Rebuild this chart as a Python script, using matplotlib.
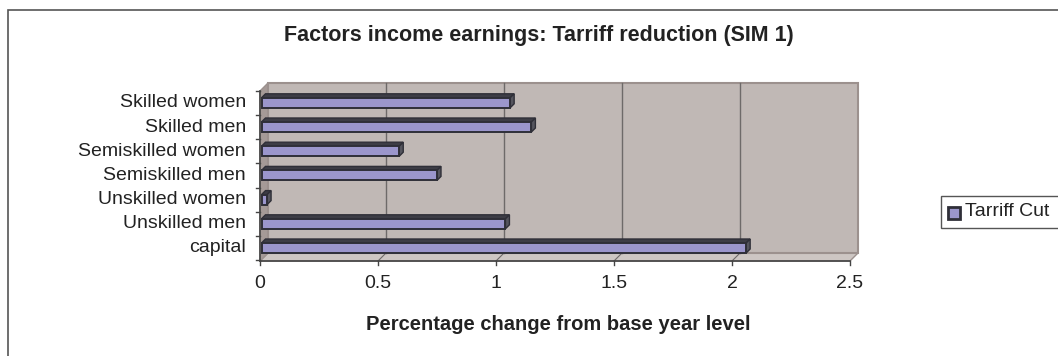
import matplotlib
matplotlib.use("Agg")
import matplotlib.pyplot as plt
from matplotlib.patches import Polygon, Rectangle

plt.rcParams["font.family"] = ["Liberation Sans", "DejaVu Sans"]

# ── Data ──────────────────────────────────────────────────────────────────────
categories = ["capital", "Unskilled men", "Unskilled women", "Semiskilled men",
              "Semiskilled women", "Skilled men", "Skilled women"]
tariff_cut = [2.06, 1.04, 0.03, 0.75, 0.59, 1.15, 1.06]
x_ticks = [0, 0.5, 1, 1.5, 2, 2.5]

title = "Factors income earnings: Tarriff reduction (SIM 1)"
x_label = "Percentage change from base year level"
series_name = "Tarriff Cut"

# ── Colours ───────────────────────────────────────────────────────────────────
WALL = "#c0b8b5"
SIDE = "#a59a97"
FLOOR = "#cdc6c3"
WALL_EDGE = "#9c918e"
GRID = "#6e6a69"
BAR_FACE = "#9b96cc"
BAR_EDGE = "#2f2f38"
BAR_TOP = "#3d3d46"
TEXT = "#222222"

W, H = 1058, 356
fig = plt.figure(figsize=(W / 100, H / 100), dpi=100)

# axes box in pixels (front plane): x 0 -> 260 px, 236 px per unit
ax_left, ax_right = 260, 850
ax_top, ax_bot = 80, 268
ax = fig.add_axes([ax_left / W, 1 - ax_bot / H,
                   (ax_right - ax_left) / W, (ax_bot - ax_top) / H])
ax.set_axis_off()

px_x = 236.0       # pixels per x unit
px_y = 24.2        # pixels per category
y0_pix = 248.0     # pixel row of first category
ylo = -(ax_bot - y0_pix) / px_y
yhi = (y0_pix - ax_top) / px_y
ax.set_xlim(0, 2.5)
ax.set_ylim(ylo, yhi)


def dx(p):
    return p / px_x


def dy(p):
    return p / px_y


def ypix(p):
    # pixel row -> data y
    return (y0_pix - p) / px_y


depth_x, depth_y = dx(8), dy(8)
y_front_bot = ypix(261)
y_front_top = ypix(91)
y_back_bot = y_front_bot + depth_y
y_back_top = y_front_top + depth_y
xmax = 2.5

# floor, left wall and back wall
ax.add_patch(Polygon([(0, y_front_bot), (xmax, y_front_bot),
                      (xmax + depth_x, y_back_bot), (depth_x, y_back_bot)],
                     closed=True, fc=FLOOR, ec=WALL_EDGE, lw=1.0, zorder=1,
                     clip_on=False))
ax.add_patch(Polygon([(0, y_front_bot), (0, y_front_top),
                      (depth_x, y_back_top), (depth_x, y_back_bot)],
                     closed=True, fc=SIDE, ec=WALL_EDGE, lw=1.0, zorder=1,
                     clip_on=False))
ax.add_patch(Rectangle((depth_x, y_back_bot), xmax, y_back_top - y_back_bot,
                       fc=WALL, ec=WALL_EDGE, lw=1.5, zorder=1,
                       clip_on=False))

# gridlines on back wall + floor
for t in x_ticks[1:-1]:
    ax.plot([t + depth_x, t + depth_x], [y_back_bot, y_back_top],
            color=GRID, lw=1.0, zorder=2)
    ax.plot([t, t + depth_x], [y_front_bot, y_back_bot],
            color=GRID, lw=0.8, zorder=2)

# front axis line and ticks
ax.plot([0, xmax], [y_front_bot, y_front_bot], color="#444444", lw=1.2,
        zorder=3, clip_on=False)
for t in x_ticks:
    ax.plot([t, t], [y_front_bot, y_front_bot - dy(4)], color="#444444",
            lw=1.0, zorder=3, clip_on=False)
    ax.text(t, y_front_bot - dy(22), f"{t:g}", ha="center", va="center",
            fontsize=14, color=TEXT)

# category axis
ax.plot([0, 0], [y_front_bot, y_front_top], color="#444444", lw=1.2,
        zorder=3, clip_on=False)
for i in range(len(categories) + 1):
    yb = i - 0.5
    ax.plot([-dx(4), 0], [yb, yb], color="#444444", lw=1.0, zorder=3,
            clip_on=False)
for i, name in enumerate(categories):
    ax.text(-dx(14), i, name, ha="right", va="center", fontsize=14,
            color=TEXT)

# bars: front face with dark top and end faces
bar_h = dy(10)
bev_x, bev_y = dx(4), dy(4)
x_start = dx(1.5)
for i, v in enumerate(tariff_cut):
    ytop = i + bar_h / 2
    ax.add_patch(Polygon([(x_start, ytop), (v, ytop),
                          (v + bev_x, ytop + bev_y),
                          (x_start + bev_x, ytop + bev_y)],
                         closed=True, fc=BAR_TOP, ec=BAR_EDGE, lw=1.0,
                         zorder=4))
    ax.add_patch(Polygon([(v, i - bar_h / 2), (v, ytop),
                          (v + bev_x, ytop + bev_y),
                          (v + bev_x, i - bar_h / 2 + bev_y)],
                         closed=True, fc="#55555e", ec=BAR_EDGE, lw=1.0,
                         zorder=4))
    ax.barh(i, v - x_start, left=x_start, height=bar_h, color=BAR_FACE,
            edgecolor=BAR_EDGE, linewidth=1.4, zorder=5)

# titles
fig.text(539 / W, 1 - 36 / H, title, ha="center", va="center",
         fontsize=15.5, fontweight="bold", color=TEXT)
fig.text(558 / W, 1 - 325 / H, x_label, ha="center", va="center",
         fontsize=14.5, fontweight="bold", color=TEXT)

# legend
fig.patches.append(Rectangle((941 / W, 1 - 228 / H), 130 / W, 32 / H,
                             transform=fig.transFigure, fc="white",
                             ec="#555555", lw=1.0))
fig.patches.append(Rectangle((948 / W, 1 - 219 / H), 12 / W, 12 / H,
                             transform=fig.transFigure, fc=BAR_FACE,
                             ec=BAR_EDGE, lw=2.0))
fig.text(965 / W, 1 - 212 / H, series_name, ha="left", va="center",
         fontsize=14, color=TEXT)

# outer chart frame
fig.patches.append(Rectangle((8 / W, -0.1), 1.2, 1 - 10 / H + 0.1,
                             transform=fig.transFigure, fc="none",
                             ec="#555555", lw=1.2))

fig.savefig("out.png", dpi=100, facecolor="white")
